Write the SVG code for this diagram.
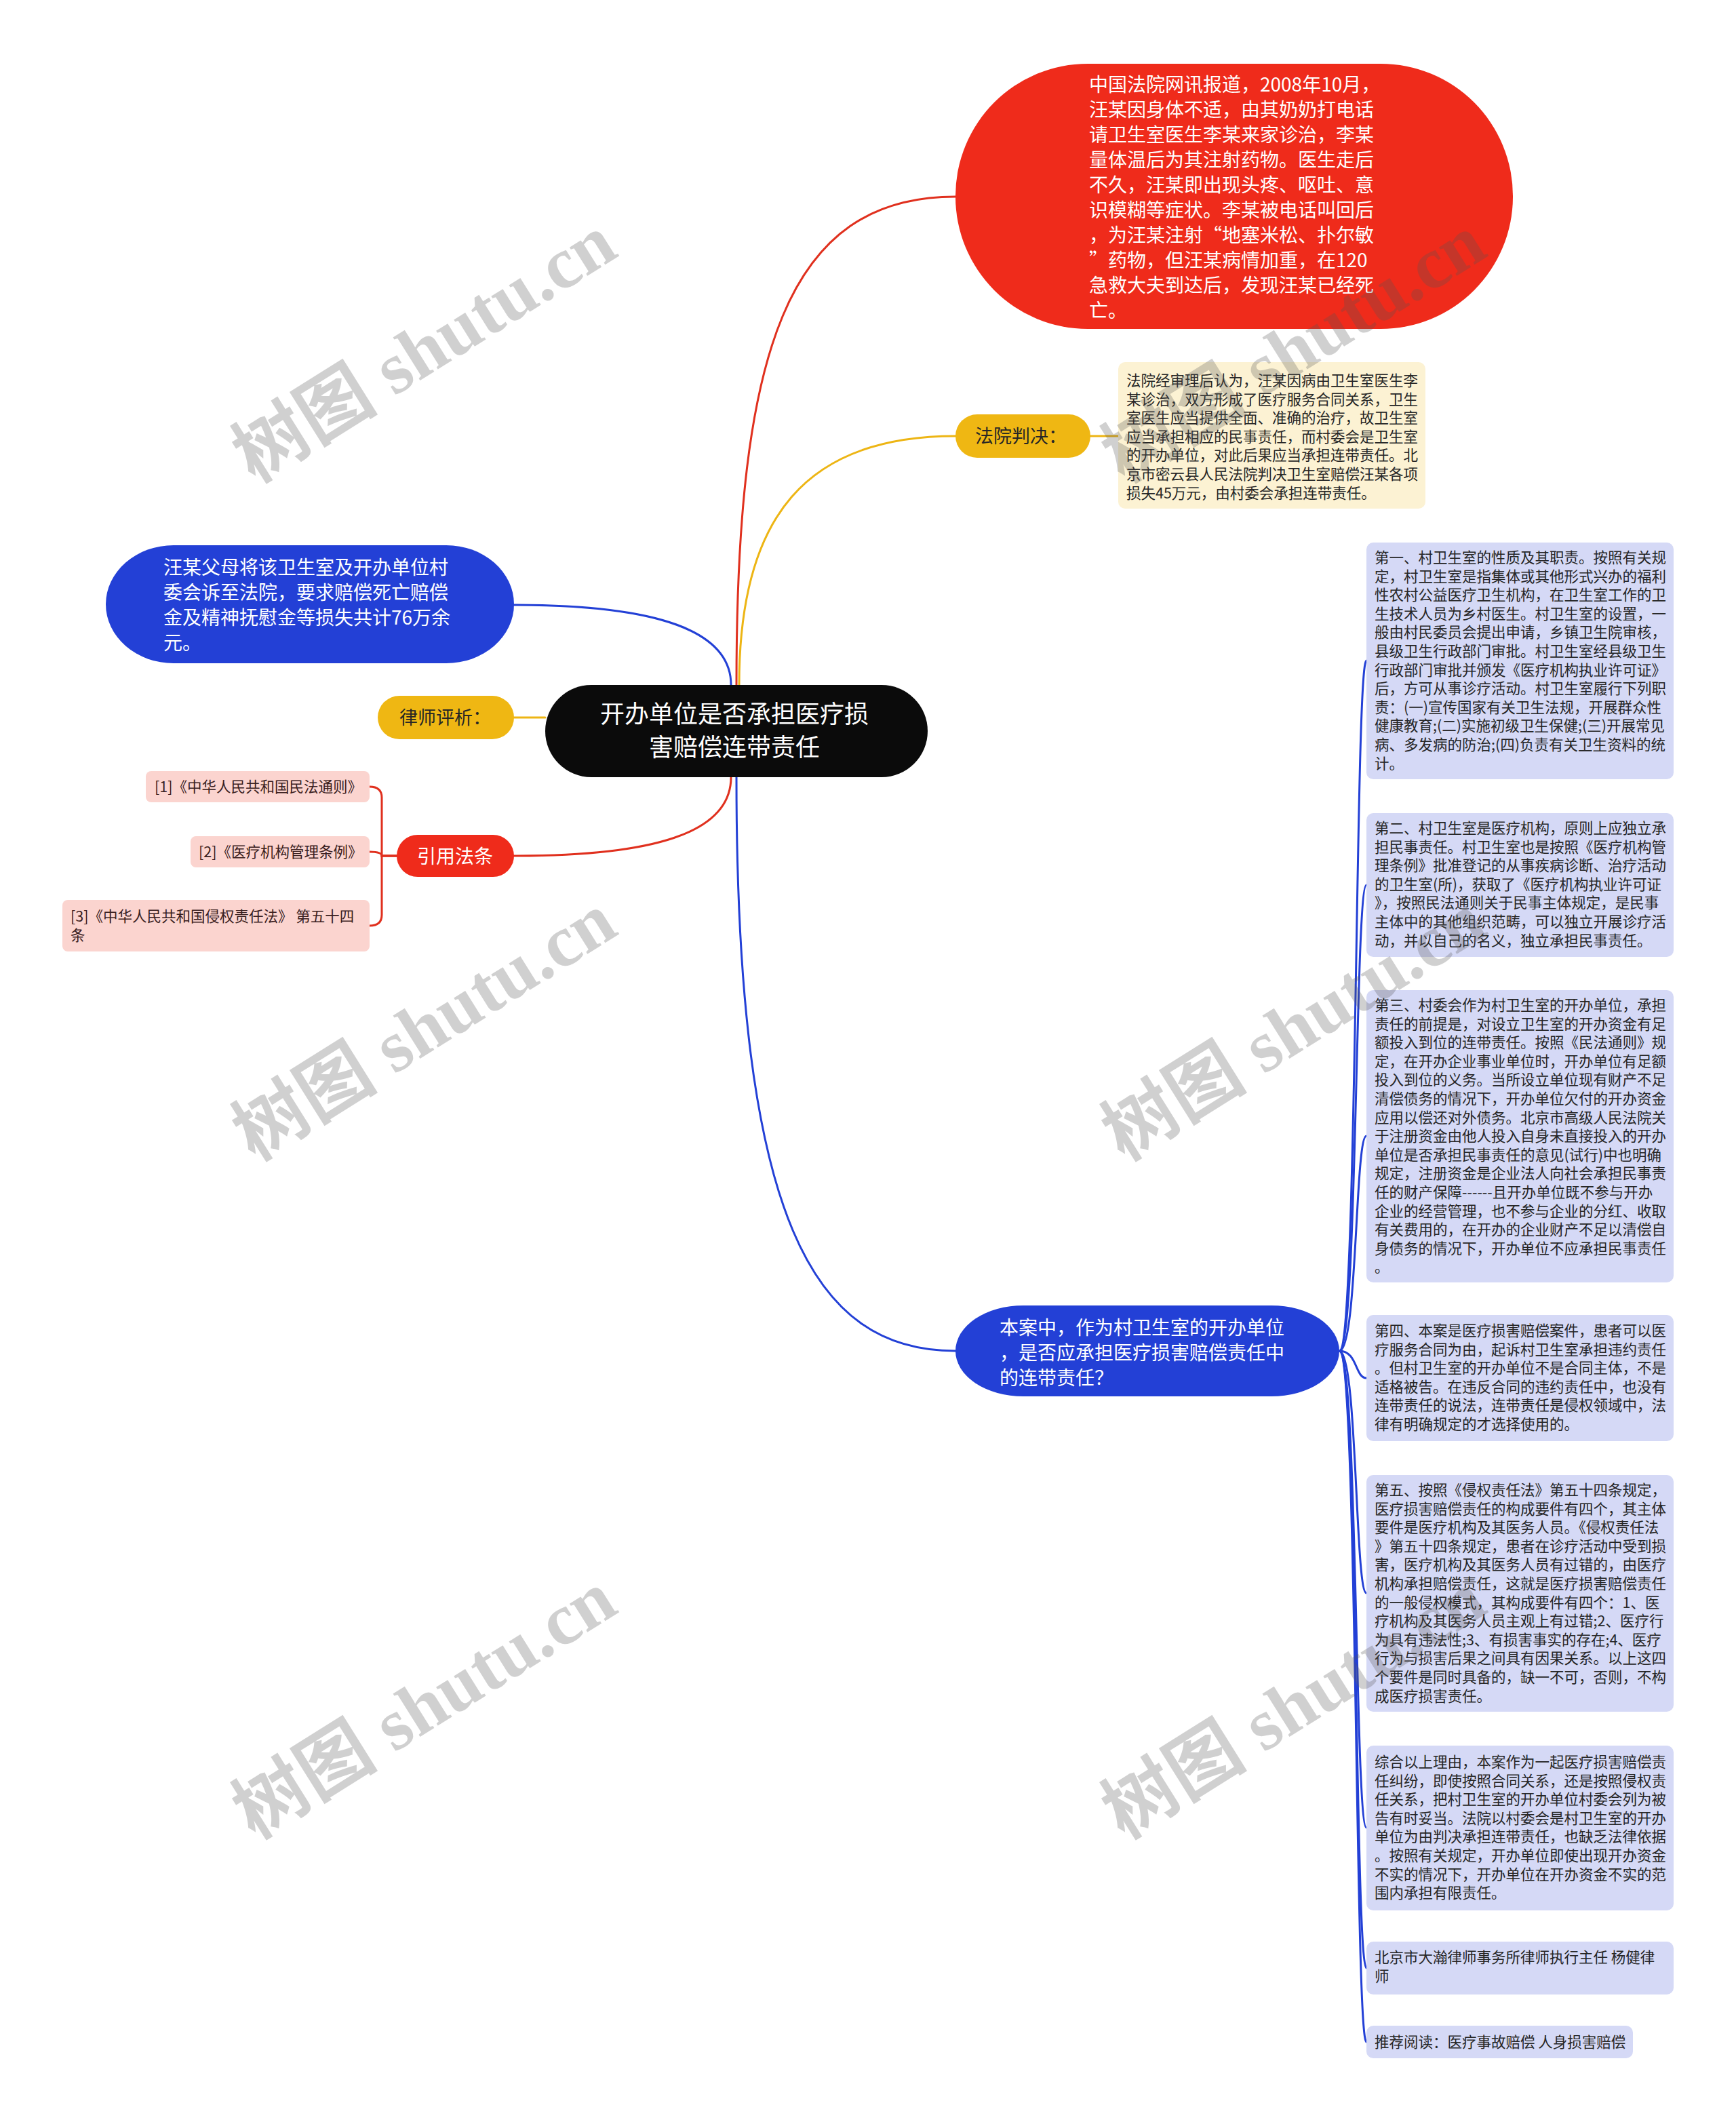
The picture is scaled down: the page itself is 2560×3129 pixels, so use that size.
<svg xmlns="http://www.w3.org/2000/svg" width="2560" height="3129" viewBox="0 0 2560 3129">
<style>
.t{font-family:"Noto Sans CJK SC","Noto Sans",sans-serif}
.w{fill:#ffffff}
.d{fill:#262626}
.f28{font-size:28px}
.f21{font-size:21.5px}
.f36{font-size:36px}
.box{fill:#D5D9F6}
.pink{fill:#FBD4CF}
.ln{fill:none;stroke-width:3;stroke-linecap:round}
.wm{font-family:"Liberation Serif","Noto Sans CJK SC",serif;font-size:108px;font-weight:bold;fill:#555;opacity:0.27}
</style>
<rect width="2560" height="3129" fill="#ffffff"/>
<g id="connectors">
<path class="ln" stroke="#E0301E" d="M1086 1010 C1086 520 1160 290 1409 290"/>
<path class="ln" stroke="#EDB514" d="M1090 1010 C1090 760 1190 643 1409 643"/>
<path class="ln" stroke="#EDB514" d="M1608 643 L1650 643"/>
<path class="ln" stroke="#2340D6" d="M1078 1010 C1078 930 970 892 758 892"/>
<path class="ln" stroke="#EDB514" d="M758 1058 L804 1058"/>
<path class="ln" stroke="#E0301E" d="M1078 1146 C1078 1230 960 1262 758 1262"/>
<path class="ln" stroke="#2340D6" d="M1086 1146 C1086 1800 1200 1992 1409 1992"/>
<path class="ln" stroke="#E0301E" d="M585 1262 H563 V1176 Q563 1160 545 1160"/>
<path class="ln" stroke="#E0301E" d="M585 1262 H563 V1262 Q563 1256 545 1256"/>
<path class="ln" stroke="#E0301E" d="M585 1262 H563 V1349 Q563 1365 545 1365"/>
<path class="ln" stroke="#2340D6" d="M1975 1992 C2002 1992 1998 974 2015 974"/>
<path class="ln" stroke="#2340D6" d="M1975 1992 C2002 1992 1998 1305 2015 1305"/>
<path class="ln" stroke="#2340D6" d="M1975 1992 C2002 1992 1998 1675 2015 1675"/>
<path class="ln" stroke="#2340D6" d="M1975 1992 C2002 1992 1998 2032 2015 2032"/>
<path class="ln" stroke="#2340D6" d="M1975 1992 C2002 1992 1998 2349 2015 2349"/>
<path class="ln" stroke="#2340D6" d="M1975 1992 C2002 1992 1998 2695 2015 2695"/>
<path class="ln" stroke="#2340D6" d="M1975 1992 C2002 1992 1998 2902 2015 2902"/>
<path class="ln" stroke="#2340D6" d="M1975 1992 C2002 1992 1998 3011 2015 3011"/>
</g>
<g id="central">
<rect x="804" y="1010" width="564" height="136" rx="68" ry="68" fill="#0B0B0B"/>
<text class="t w f36" text-anchor="middle"><tspan x="1083" y="1066">开办单位是否承担医疗损</tspan><tspan x="1083" y="1115">害赔偿连带责任</tspan></text>
</g>
<g id="news">
<rect x="1409" y="94" width="822" height="391" rx="195" ry="195" fill="#EF2B1B"/>
<text class="t w f28"><tspan x="1606" y="135">中国法院网讯报道，2008年10月，</tspan><tspan x="1606" dy="37">汪某因身体不适，由其奶奶打电话</tspan><tspan x="1606" dy="37">请卫生室医生李某来家诊治，李某</tspan><tspan x="1606" dy="37">量体温后为其注射药物。医生走后</tspan><tspan x="1606" dy="37">不久，汪某即出现头疼、呕吐、意</tspan><tspan x="1606" dy="37">识模糊等症状。李某被电话叫回后</tspan><tspan x="1606" dy="37">，为汪某注射“地塞米松、扑尔敏</tspan><tspan x="1606" dy="37">”药物，但汪某病情加重，在120</tspan><tspan x="1606" dy="37">急救大夫到达后，发现汪某已经死</tspan><tspan x="1606" dy="37">亡。</tspan></text>
</g>
<g id="court-label">
<rect x="1409" y="611" width="199" height="64" rx="32" fill="#EFB713"/>
<text class="t d" font-size="27" x="1438" y="653">法院判决：</text>
</g>
<g id="court-text">
<rect x="1649" y="534" width="453" height="216" rx="10" fill="#FCF2D3"/>
<text class="t d f21"><tspan x="1661" y="569">法院经审理后认为，汪某因病由卫生室医生李</tspan><tspan x="1661" dy="27.6">某诊治，双方形成了医疗服务合同关系，卫生</tspan><tspan x="1661" dy="27.6">室医生应当提供全面、准确的治疗，故卫生室</tspan><tspan x="1661" dy="27.6">应当承担相应的民事责任，而村委会是卫生室</tspan><tspan x="1661" dy="27.6">的开办单位，对此后果应当承担连带责任。北</tspan><tspan x="1661" dy="27.6">京市密云县人民法院判决卫生室赔偿汪某各项</tspan><tspan x="1661" dy="27.6">损失45万元，由村委会承担连带责任。</tspan></text>
</g>
<g id="lawsuit">
<rect x="156" y="804" width="602" height="174" rx="100" ry="87" fill="#2340D6"/>
<text class="t w f28"><tspan x="241" y="847">汪某父母将该卫生室及开办单位村</tspan><tspan x="241" dy="37">委会诉至法院，要求赔偿死亡赔偿</tspan><tspan x="241" dy="37">金及精神抚慰金等损失共计76万余</tspan><tspan x="241" dy="37">元。</tspan></text>
</g>
<g id="lawyer-label">
<rect x="557" y="1026" width="201" height="64" rx="32" fill="#EFB713"/>
<text class="t d" font-size="27" x="589" y="1068">律师评析：</text>
</g>
<g id="citations">
<rect x="585" y="1231" width="173" height="62" rx="31" fill="#EF2B1B"/>
<text class="t w f28" text-anchor="middle" x="671" y="1273">引用法条</text>
</g>
<g id="cite-1">
<rect class="pink" x="215" y="1137" width="330" height="46" rx="8"/>
<text class="t f21" fill="#3a2020" x="228" y="1168">[1]《中华人民共和国民法通则》</text>
</g>
<g id="cite-2">
<rect class="pink" x="281" y="1233" width="264" height="46" rx="8"/>
<text class="t f21" fill="#3a2020" x="293" y="1264">[2]《医疗机构管理条例》</text>
</g>
<g id="cite-3">
<rect class="pink" x="92" y="1327" width="453" height="76" rx="8"/>
<text class="t f21" fill="#3a2020"><tspan x="104" y="1359">[3]《中华人民共和国侵权责任法》 第五十四</tspan><tspan x="104" dy="28">条</tspan></text>
</g>
<g id="question">
<rect x="1409" y="1925" width="566" height="134" rx="100" ry="67" fill="#2340D6"/>
<text class="t w f28"><tspan x="1474" y="1968">本案中，作为村卫生室的开办单位</tspan><tspan x="1474" dy="37">，是否应承担医疗损害赔偿责任中</tspan><tspan x="1474" dy="37">的连带责任？</tspan></text>
</g>
<g id="point-1">
<rect class="box" x="2015" y="800" width="453" height="349" rx="10"/>
<text class="t d f21"><tspan x="2027" y="830">第一、村卫生室的性质及其职责。按照有关规</tspan><tspan x="2027" dy="27.6">定，村卫生室是指集体或其他形式兴办的福利</tspan><tspan x="2027" dy="27.6">性农村公益医疗卫生机构，在卫生室工作的卫</tspan><tspan x="2027" dy="27.6">生技术人员为乡村医生。村卫生室的设置，一</tspan><tspan x="2027" dy="27.6">般由村民委员会提出申请，乡镇卫生院审核，</tspan><tspan x="2027" dy="27.6">县级卫生行政部门审批。村卫生室经县级卫生</tspan><tspan x="2027" dy="27.6">行政部门审批并颁发《医疗机构执业许可证》</tspan><tspan x="2027" dy="27.6">后，方可从事诊疗活动。村卫生室履行下列职</tspan><tspan x="2027" dy="27.6">责：(一)宣传国家有关卫生法规，开展群众性</tspan><tspan x="2027" dy="27.6">健康教育;(二)实施初级卫生保健;(三)开展常见</tspan><tspan x="2027" dy="27.6">病、多发病的防治;(四)负责有关卫生资料的统</tspan><tspan x="2027" dy="27.6">计。</tspan></text>
</g>
<g id="point-2">
<rect class="box" x="2015" y="1199" width="453" height="212" rx="10"/>
<text class="t d f21"><tspan x="2027" y="1229">第二、村卫生室是医疗机构，原则上应独立承</tspan><tspan x="2027" dy="27.6">担民事责任。村卫生室也是按照《医疗机构管</tspan><tspan x="2027" dy="27.6">理条例》批准登记的从事疾病诊断、治疗活动</tspan><tspan x="2027" dy="27.6">的卫生室(所)，获取了《医疗机构执业许可证</tspan><tspan x="2027" dy="27.6">》，按照民法通则关于民事主体规定，是民事</tspan><tspan x="2027" dy="27.6">主体中的其他组织范畴，可以独立开展诊疗活</tspan><tspan x="2027" dy="27.6">动，并以自己的名义，独立承担民事责任。</tspan></text>
</g>
<g id="point-3">
<rect class="box" x="2015" y="1460" width="453" height="431" rx="10"/>
<text class="t d f21"><tspan x="2027" y="1490">第三、村委会作为村卫生室的开办单位，承担</tspan><tspan x="2027" dy="27.6">责任的前提是，对设立卫生室的开办资金有足</tspan><tspan x="2027" dy="27.6">额投入到位的连带责任。按照《民法通则》规</tspan><tspan x="2027" dy="27.6">定，在开办企业事业单位时，开办单位有足额</tspan><tspan x="2027" dy="27.6">投入到位的义务。当所设立单位现有财产不足</tspan><tspan x="2027" dy="27.6">清偿债务的情况下，开办单位欠付的开办资金</tspan><tspan x="2027" dy="27.6">应用以偿还对外债务。北京市高级人民法院关</tspan><tspan x="2027" dy="27.6">于注册资金由他人投入自身未直接投入的开办</tspan><tspan x="2027" dy="27.6">单位是否承担民事责任的意见(试行)中也明确</tspan><tspan x="2027" dy="27.6">规定，注册资金是企业法人向社会承担民事责</tspan><tspan x="2027" dy="27.6">任的财产保障------且开办单位既不参与开办</tspan><tspan x="2027" dy="27.6">企业的经营管理，也不参与企业的分红、收取</tspan><tspan x="2027" dy="27.6">有关费用的，在开办的企业财产不足以清偿自</tspan><tspan x="2027" dy="27.6">身债务的情况下，开办单位不应承担民事责任</tspan><tspan x="2027" dy="27.6">。</tspan></text>
</g>
<g id="point-4">
<rect class="box" x="2015" y="1939" width="453" height="186" rx="10"/>
<text class="t d f21"><tspan x="2027" y="1970">第四、本案是医疗损害赔偿案件，患者可以医</tspan><tspan x="2027" dy="27.6">疗服务合同为由，起诉村卫生室承担违约责任</tspan><tspan x="2027" dy="27.6">。但村卫生室的开办单位不是合同主体，不是</tspan><tspan x="2027" dy="27.6">适格被告。在违反合同的违约责任中，也没有</tspan><tspan x="2027" dy="27.6">连带责任的说法，连带责任是侵权领域中，法</tspan><tspan x="2027" dy="27.6">律有明确规定的才选择使用的。</tspan></text>
</g>
<g id="point-5">
<rect class="box" x="2015" y="2175" width="453" height="349" rx="10"/>
<text class="t d f21"><tspan x="2027" y="2205">第五、按照《侵权责任法》第五十四条规定，</tspan><tspan x="2027" dy="27.6">医疗损害赔偿责任的构成要件有四个，其主体</tspan><tspan x="2027" dy="27.6">要件是医疗机构及其医务人员。《侵权责任法</tspan><tspan x="2027" dy="27.6">》第五十四条规定，患者在诊疗活动中受到损</tspan><tspan x="2027" dy="27.6">害，医疗机构及其医务人员有过错的，由医疗</tspan><tspan x="2027" dy="27.6">机构承担赔偿责任，这就是医疗损害赔偿责任</tspan><tspan x="2027" dy="27.6">的一般侵权模式，其构成要件有四个：1、医</tspan><tspan x="2027" dy="27.6">疗机构及其医务人员主观上有过错;2、医疗行</tspan><tspan x="2027" dy="27.6">为具有违法性;3、有损害事实的存在;4、医疗</tspan><tspan x="2027" dy="27.6">行为与损害后果之间具有因果关系。以上这四</tspan><tspan x="2027" dy="27.6">个要件是同时具备的，缺一不可，否则，不构</tspan><tspan x="2027" dy="27.6">成医疗损害责任。</tspan></text>
</g>
<g id="conclusion">
<rect class="box" x="2015" y="2574" width="453" height="243" rx="10"/>
<text class="t d f21"><tspan x="2027" y="2606">综合以上理由，本案作为一起医疗损害赔偿责</tspan><tspan x="2027" dy="27.6">任纠纷，即使按照合同关系，还是按照侵权责</tspan><tspan x="2027" dy="27.6">任关系，把村卫生室的开办单位村委会列为被</tspan><tspan x="2027" dy="27.6">告有时妥当。法院以村委会是村卫生室的开办</tspan><tspan x="2027" dy="27.6">单位为由判决承担连带责任，也缺乏法律依据</tspan><tspan x="2027" dy="27.6">。按照有关规定，开办单位即使出现开办资金</tspan><tspan x="2027" dy="27.6">不实的情况下，开办单位在开办资金不实的范</tspan><tspan x="2027" dy="27.6">围内承担有限责任。</tspan></text>
</g>
<g id="author">
<rect class="box" x="2015" y="2863" width="453" height="78" rx="10"/>
<text class="t d f21"><tspan x="2027" y="2894">北京市大瀚律师事务所律师执行主任 杨健律</tspan><tspan x="2027" dy="27.6">师</tspan></text>
</g>
<g id="reading">
<rect class="box" x="2015" y="2987" width="393" height="48" rx="10"/>
<text class="t d f21" x="2027" y="3019">推荐阅读：医疗事故赔偿 人身损害赔偿</text>
</g>
<g id="watermarks">
<text class="wm" text-anchor="middle" transform="translate(645,545) rotate(-32)">树图 shutu.cn</text>
<text class="wm" text-anchor="middle" transform="translate(645,1545) rotate(-32)">树图 shutu.cn</text>
<text class="wm" text-anchor="middle" transform="translate(645,2545) rotate(-32)">树图 shutu.cn</text>
<text class="wm" text-anchor="middle" transform="translate(1927,545) rotate(-32)">树图 shutu.cn</text>
<text class="wm" text-anchor="middle" transform="translate(1927,1545) rotate(-32)">树图 shutu.cn</text>
<text class="wm" text-anchor="middle" transform="translate(1927,2545) rotate(-32)">树图 shutu.cn</text>
</g>
</svg>
